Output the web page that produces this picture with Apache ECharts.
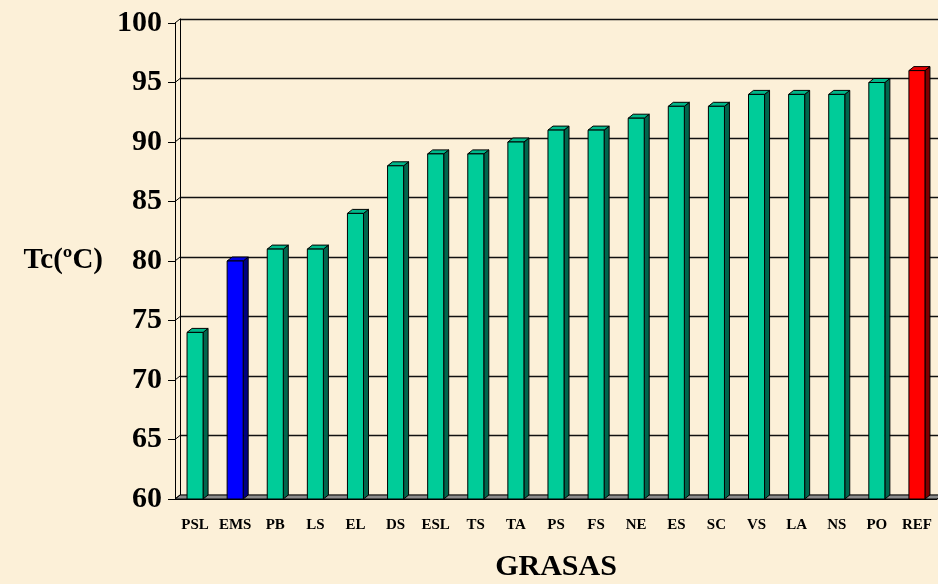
<!DOCTYPE html>
<html>
<head>
<meta charset="utf-8">
<script src="https://cdn.jsdelivr.net/npm/echarts@6/dist/echarts.min.js"></script>
<style>
  html, body { margin: 0; padding: 0; background: #FCF0D8; }
  #chart { width: 938px; height: 584px; }
</style>
</head>
<body>
<div id="chart"></div>
<script>
// Crystallisation temperature per grease sample
const categories = ['PSL','EMS','PB','LS','EL','DS','ESL','TS','TA','PS','FS','NE','ES','SC','VS','LA','NS','PO','REF'];
const tcValues = [74, 80, 81, 81, 84, 88, 89, 89, 90, 91, 91, 92, 93, 93, 94, 94, 94, 95, 96];
const yTicks = [60, 65, 70, 75, 80, 85, 90, 95, 100];
const yMin = 60, yMax = 100, yStep = 5;

// Depth offset of the pseudo-3D walls and bars (px)
const DX = 5, DY = -4;
const FONT = '"Liberation Serif", "Times New Roman", serif';

const palette = {
  normal: { front: '#00CC99', top: '#00B88A', side: '#00664D' },
  EMS:    { front: '#0000FF', top: '#0000E0', side: '#000080' },
  REF:    { front: '#FF0000', top: '#E60000', side: '#800000' }
};
function colorsFor(name) { return palette[name] || palette.normal; }

function renderBar(params, api) {
  const i = api.value(0), v = api.value(1);
  const top = api.coord([i, v]);
  const base = api.coord([i, yMin]);
  const band = api.size([1, 0])[0];
  const w = band * 0.4;
  const x0 = top[0] - w / 2, x1 = top[0] + w / 2;
  const y0 = top[1], y1 = base[1];
  const c = colorsFor(categories[i]);
  const edge = { stroke: '#000', lineWidth: 1 };
  return {
    type: 'group',
    children: [
      { type: 'polygon', shape: { points: [[x1, y0], [x1 + DX, y0 + DY], [x1 + DX, y1 + DY], [x1, y1]] },
        style: Object.assign({ fill: c.side }, edge) },
      { type: 'polygon', shape: { points: [[x0, y0], [x0 + DX, y0 + DY], [x1 + DX, y0 + DY], [x1, y0]] },
        style: Object.assign({ fill: c.top }, edge) },
      { type: 'rect', shape: { x: x0, y: y0, width: w, height: y1 - y0 },
        style: Object.assign({ fill: c.front }, edge) }
    ]
  };
}

// Diagonal tick lines on the left side wall
function renderWall(params, api) {
  const p = api.coord([0, api.value(1)]);
  const x = params.coordSys.x;
  return { type: 'line', shape: { x1: x, y1: p[1], x2: x + DX, y2: p[1] + DY },
           style: { stroke: '#000', lineWidth: 1 } };
}

// Grey floor strip under the bars
function renderFloor(params, api) {
  const cs = params.coordSys;
  const y = api.coord([0, yMin])[1];
  const xl = cs.x, xr = cs.x + cs.width;
  return { type: 'polygon', shape: { points: [[xl, y], [xr, y], [xr + DX, y + DY], [xl + DX, y + DY]] },
           style: { fill: '#8C8C8C', stroke: '#000', lineWidth: 1 } };
}

const chart = echarts.init(document.getElementById('chart'));
chart.setOption({
  backgroundColor: '#FCF0D8',
  animation: false,
  grid: [
    { left: 175, top: 23, right: 1, bottom: 85, containLabel: false, outerBoundsMode: 'none' },
    { left: 180, top: 19, right: -4, bottom: 89, containLabel: false, outerBoundsMode: 'none' }
  ],
  xAxis: [
    {
      type: 'category', gridIndex: 0, data: categories, boundaryGap: true, z: 5,
      axisLine: { lineStyle: { color: '#000', width: 1 } },
      axisTick: { length: 7, lineStyle: { color: '#000' } },
      axisLabel: { interval: 0, margin: 19, color: '#000', fontFamily: FONT, fontWeight: 'bold', fontSize: 15 },
      name: 'GRASAS', nameLocation: 'middle', nameGap: 53,
      nameTextStyle: { color: '#000', fontFamily: FONT, fontWeight: 'bold', fontSize: 30 }
    },
    { type: 'category', gridIndex: 1, data: categories, show: false }
  ],
  yAxis: [
    {
      type: 'value', gridIndex: 0, min: yMin, max: yMax, interval: yStep,
      axisLine: { show: true, lineStyle: { color: '#000', width: 1 } },
      axisTick: { show: true, length: 7, lineStyle: { color: '#000' } },
      splitLine: { show: false },
      axisLabel: { margin: 13, color: '#000', fontFamily: FONT, fontWeight: 'bold', fontSize: 30,
                   padding: [4, 0, 0, 0],
                   formatter: v => (yTicks.indexOf(v) >= 0 ? String(v) : '') },
      name: 'Tc(ºC)', nameLocation: 'middle', nameRotate: 0, nameGap: 72,
      nameTextStyle: { color: '#000', fontFamily: FONT, fontWeight: 'bold', fontSize: 29 }
    },
    {
      type: 'value', gridIndex: 1, min: yMin, max: yMax, interval: yStep,
      axisLine: { show: true, lineStyle: { color: '#000', width: 1 } },
      axisTick: { show: false }, axisLabel: { show: false },
      splitLine: { show: true, lineStyle: { color: '#111', width: 1.3 } }
    }
  ],
  series: [
    { type: 'custom', xAxisIndex: 0, yAxisIndex: 0, z: 1, silent: true,
      renderItem: renderFloor, data: [[0, yMin]] },
    { type: 'custom', xAxisIndex: 0, yAxisIndex: 0, z: 1, silent: true,
      renderItem: renderWall, data: yTicks.map(v => [0, v]) },
    { type: 'custom', xAxisIndex: 0, yAxisIndex: 0, z: 3,
      renderItem: renderBar, data: tcValues.map((v, i) => [i, v]) }
  ]
});
</script>
</body>
</html>
